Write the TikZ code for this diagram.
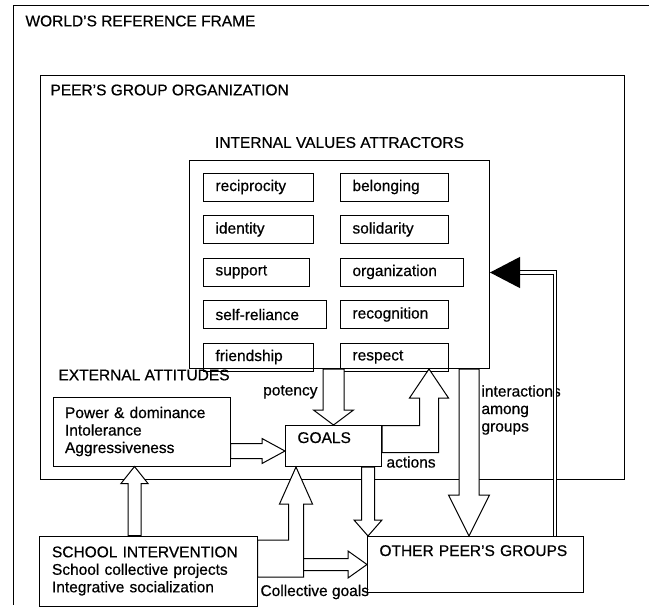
\documentclass[tikz,border=0pt]{standalone}
\usepackage{fontspec}
\setmainfont{Liberation Sans}[FakeBold=0.6]
\usetikzlibrary{arrows.meta,positioning,calc}

\begin{document}
\begin{tikzpicture}[x=1pt, y=-1pt, line width=1pt, font=\fontsize{15.5}{17.5}\selectfont,
    frame/.style={rectangle, draw, inner sep=0pt, anchor=north west},
    heading/.style={anchor=west, inner sep=0pt},
    attractor/.style={rectangle, draw, text width=#1, inner xsep=12pt, inner ysep=0pt, minimum height=28pt, anchor=west, align=left},
    attractor/.default=84pt,
    textbox/.style={rectangle, draw, text width=#1, inner xsep=12pt, align=left},
    blockarrow/.style={draw, fill=white, line join=miter},
    feedback/.style={draw, double, double distance=2.5pt, line width=1.1pt, -{Triangle[length=30pt, width=31pt]}}]
    \useasboundingbox (0,0) rectangle (649,613);

    % Frames and titles
    \draw (649,5) -| (13,605);
    \node [heading] (worldt) at (25,21) {WORLD'S REFERENCE FRAME};
    \node [frame, minimum width=584pt, minimum height=404pt] (peer) at (40,75) {};
    \node [heading] (peert) at (50,90) {PEER'S GROUP ORGANIZATION};
    \node [frame, minimum width=300pt, minimum height=208pt] (iva) at (189,160) {};
    \node [inner sep=0pt, above=11.5pt of iva] (ivat) {INTERNAL VALUES ATTRACTORS};

    % Left column of values
    \node [attractor=86pt] (recip) at (203,187) {reciprocity};
    \node [attractor=86pt, below=13.5pt of recip.south west, anchor=north west] (ident) {identity};
    \node [attractor=82pt, below=13.5pt of ident.south west, anchor=north west] (supp) {support};
    \node [attractor=99pt, below=13.5pt of supp.south west, anchor=north west] (selfrel) {self-reliance};
    \node [attractor=86pt, below=13.5pt of selfrel.south west, anchor=north west] (friend) {friendship};

    % Right column of values
    \node [attractor] (belong) at (340,187) {belonging};
    \node [attractor, below=13.5pt of belong.south west, anchor=north west] (solid) {solidarity};
    \node [attractor=99pt, below=13.5pt of solid.south west, anchor=north west] (organ) {organization};
    \node [attractor, below=13.5pt of organ.south west, anchor=north west] (recog) {recognition};
    \node [attractor, below=13.5pt of recog.south west, anchor=north west] (resp) {respect};

    % External attitudes, goals and the outside boxes
    \node [heading] (extt) at (58,375) {EXTERNAL ATTITUDES};
    \node [textbox=153pt, minimum height=69pt] (ext) at (141.5,431.5) {Power \& dominance\\Intolerance\\Aggressiveness};
    \node [textbox=72pt, inner ysep=4pt, text height=13.5pt, text depth=19.5pt, anchor=north west] (goals) at (285,425) {GOALS};
    \node [textbox=192pt, inner xsep=13pt, minimum height=70pt] (school) at (148,571) {SCHOOL INTERVENTION\\School collective projects\\Integrative socialization};
    \node [textbox=192pt, inner ysep=4pt, text height=15.5pt, text depth=32.5pt, anchor=north west] (other) at (367,536) {OTHER PEER'S GROUPS};

    % Labels
    \node [anchor=east, inner sep=0pt] (potl) at (318,392) {potency};
    \node [anchor=west, inner sep=0pt] (actl) at (386,462) {actions};
    \node [anchor=west, inner sep=0pt, align=left] (intl) at (481,410) {interactions\\among\\groups};
    \node [anchor=west, inner sep=0pt] (coll) at (260,592) {Collective goals};

    \coordinate (actx) at (429,0);
    \coordinate (intx) at (469,0);
    \coordinate (fbx) at (555,0);

    % Block arrows
    \path [blockarrow] let \p1=(ext.east), \p2=($(goals.west)+(0,5)$) in
        (\x1,\y2+7.5pt) -- (\x2-23pt,\y2+7.5pt) -- (\x2-23pt,\y2+12.5pt) -- (\x2,\y2)
        -- (\x2-23pt,\y2-12.5pt) -- (\x2-23pt,\y2-7.5pt) -- (\x1,\y2-7.5pt) -- cycle;
    \path [blockarrow] let \p1=(iva.south), \p2=(goals.north) in
        (\x2-10.5pt,\y1) -- (\x2-10.5pt,\y2+15pt) -- (\x2-20pt,\y2+15pt) -- (\x2,\y2)
        -- (\x2+20pt,\y2+15pt) -- (\x2+10.5pt,\y2+15pt) -- (\x2+10.5pt,\y1) -- cycle;
    \path [blockarrow] let \p1=(goals.east), \p3=(actx |- iva.south) in
        (\x1,\y1+20.5pt) -- (\x3-9.5pt,\y1+20.5pt) -- (\x3-9.5pt,\y3-29pt) -- (\x3-19.5pt,\y3-29pt) -- (\x3,\y3)
        -- (\x3+19.5pt,\y3-29pt) -- (\x3+9.5pt,\y3-29pt) -- (\x3+9.5pt,\y1-6.5pt) -- (\x1,\y1-6.5pt) -- cycle;
    \path [blockarrow] let \p1=(iva.south), \p2=(intx |- other.north) in
        (\x2-10pt,\y1) -- (\x2-10pt,\y2+41pt) -- (\x2-20.5pt,\y2+41pt) -- (\x2,\y2)
        -- (\x2+20.5pt,\y2+41pt) -- (\x2+10pt,\y2+41pt) -- (\x2+10pt,\y1) -- cycle;
    \path [blockarrow] let \p1=(goals.south), \p2=(other.north west) in
        (\x2-5.5pt,\y1) -- (\x2-5.5pt,\y2+16pt) -- (\x2-13pt,\y2+16pt) -- (\x2+1pt,\y2)
        -- (\x2+15pt,\y2+16pt) -- (\x2+7.5pt,\y2+16pt) -- (\x2+7.5pt,\y1) -- cycle;
    \path [blockarrow] let \p1=(school.north), \p2=(ext.south) in
        (\x2-13.5pt,\y1) -- (\x2-13.5pt,\y2-17pt) -- (\x2-20.5pt,\y2-17pt) -- (\x2-7pt,\y2)
        -- (\x2+6.5pt,\y2-17pt) -- (\x2-0.5pt,\y2-17pt) -- (\x2-0.5pt,\y1) -- cycle;
    \path [blockarrow] let \p1=($(goals.south west)+(18.5,0)$), \p2=(other.west) in
        (\x1,\y2+6pt) -- (\x2-19pt,\y2+6pt) -- (\x2-19pt,\y2+13.5pt) -- (\x2,\y2)
        -- (\x2-19pt,\y2-13.5pt) -- (\x2-19pt,\y2-6pt) -- (\x1,\y2-6pt);
    \path [blockarrow] let \p1=(school.east), \p2=($(goals.south west)+(11,0)$) in
        (\x1,\y1+31pt) -- (\x2-7.5pt,\y1+31pt) -- (\x2-7.5pt,\y2-37pt) -- (\x2-16.5pt,\y2-37pt) -- (\x2,\y2)
        -- (\x2+16.5pt,\y2-37pt) -- (\x2+7.5pt,\y2-37pt) -- (\x2+7.5pt,\y1-6pt) -- (\x1,\y1-6pt) -- cycle;

    % Feedback from the other groups
    \path [feedback] (fbx |- other.north) |- ([yshift=-8pt]iva.east);
\end{tikzpicture}
\end{document}
